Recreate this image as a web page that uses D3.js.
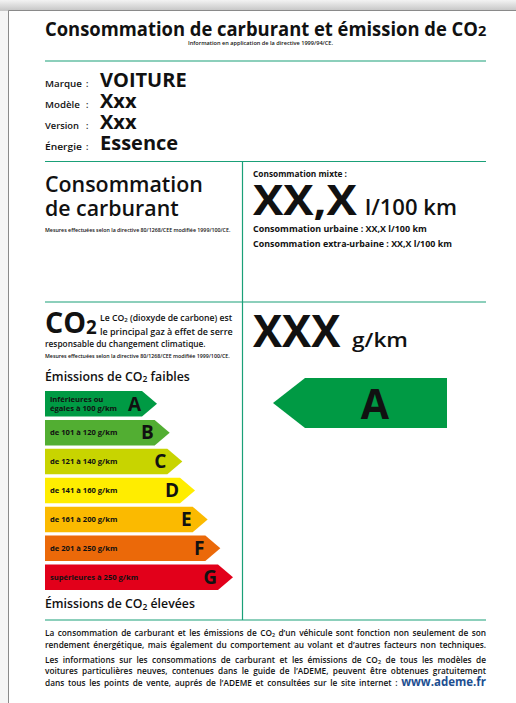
<!DOCTYPE html>
<html>
<head>
<meta charset="utf-8">
<script src="https://cdn.jsdelivr.net/npm/d3@7"></script>
<style>
  body { margin: 0; background: #fff; }
  svg { display: block; font-family: "Open Sans", "Noto Sans", sans-serif; }
</style>
</head>
<body>
<svg id="label"></svg>
<script>
const labelKeys = ["Marque", "Modèle", "Version", "Énergie"];
const labelValues = ["VOITURE", "Xxx", "Xxx", "Essence"];
const classes = ["A", "B", "C", "D", "E", "F", "G"];
const classRanges = [
  ["inférieures ou", "égales à 100 g/km"],
  ["de 101 à 120 g/km"],
  ["de 121 à 140 g/km"],
  ["de 141 à 160 g/km"],
  ["de 161 à 200 g/km"],
  ["de 201 à 250 g/km"],
  ["supérieures à 250 g/km"]
];
const classColors = ["#009a44", "#52ae32", "#c8d400", "#ffed00", "#fbba00", "#eb6909", "#e2001a"];
const currentClass = "A";
const co2Value = "XXX";
const mixedValue = "XX,X";
const urbanValue = "XX,X";
const extraValue = "XX,X";
const footerLines = [
  "La consommation de carburant et les émissions de CO₂ d’un véhicule sont fonction non seulement de son",
  "rendement énergétique, mais également du comportement au volant et d’autres facteurs non techniques.",
  "Les informations sur les consommations de carburant et les émissions de CO₂ de tous les modèles de",
  "voitures particulières neuves, contenues dans le guide de l’ADEME, peuvent être obtenues gratuitement",
  "dans tous les points de vente, auprés de l’ADEME et consultées sur le site internet :"
];
const siteUrl = "www.ademe.fr";

const W = 516, H = 703;
const left = 45, right = 486, mid = 242.5;
const green = "#1aa078";

const svg = d3.select("#label").attr("width", W).attr("height", H);

// page look: grey shadow on top and left
const defs = svg.append("defs");
const grad = defs.append("linearGradient").attr("id", "topShade")
    .attr("x1", 0).attr("y1", 0).attr("x2", 0).attr("y2", 1);
grad.append("stop").attr("offset", "0%").attr("stop-color", "#f3f3f3");
grad.append("stop").attr("offset", "100%").attr("stop-color", "#c4c4c4");

svg.append("rect").attr("width", W).attr("height", H).attr("fill", "#f5f5f5");
svg.append("rect").attr("width", W).attr("height", 11).attr("fill", "url(#topShade)");
svg.append("rect").attr("x", 9).attr("y", 11).attr("width", W - 9).attr("height", H - 11).attr("fill", "#fff");
svg.append("path").attr("d", `M8.5,${H} V10.5 H${W}`).attr("fill", "none").attr("stroke", "#8a8a8a");

// squeeze a text to a measured width (reference font is narrower)
function fit(sel, x, y, w) {
  const w0 = sel.node().getBBox().width;
  sel.attr("x", 0).attr("y", 0)
    .attr("transform", `translate(${x},${y}) scale(${w / w0},1)`);
  return sel;
}

function label(str, size, weight) {
  return svg.append("text")
    .attr("font-size", size)
    .attr("font-weight", weight)
    .attr("fill", "#111")
    .text(str);
}

// text with a subscript "2" after CO
function co2Text(before, after, size, weight, subSize, subDy) {
  const t = svg.append("text").attr("font-size", size).attr("font-weight", weight).attr("fill", "#111");
  t.append("tspan").text(before + "CO");
  t.append("tspan").attr("font-size", subSize).attr("dy", subDy).text("2");
  if (after) t.append("tspan").attr("dy", -subDy).text(after);
  return t;
}

// --- header ---
fit(co2Text("Consommation de carburant et émission de ", "", 19, 700, 15, 0.5), left, 35.5, 442);
fit(label("Information en application de la directive 1999/94/CE.", 4.6, 600), 188, 45, 145);

// grid lines
const hLines = [61, 161.5, 302, 620];
svg.selectAll("line.h").data(hLines).join("line")
    .attr("class", "h")
    .attr("x1", left).attr("x2", right)
    .attr("y1", d => d).attr("y2", d => d)
    .attr("stroke", green).attr("stroke-width", 1.2);
svg.append("line")
    .attr("x1", mid).attr("x2", mid).attr("y1", 161.5).attr("y2", 620)
    .attr("stroke", green).attr("stroke-width", 1.2);

// --- vehicle identity ---
const rowY = d3.scalePoint().domain(labelKeys).range([87.3, 150]);
const keyW = [37, 35, 34, 37];
labelKeys.forEach((k, i) => {
  fit(label(k, 8.6, 600), left, rowY(k), keyW[i]);
  label(":", 8.6, 600).attr("x", 86).attr("y", rowY(k));
  label(labelValues[i], 20, 700).attr("x", 100).attr("y", rowY(k));
});

// --- fuel consumption ---
fit(label("Consommation", 22, 600), left, 191.5, 158);
fit(label("de carburant", 22, 600), left, 216, 134);
fit(label("Mesures effectuées selon la directive 80/1268/CEE modifiée 1999/100/CE.", 5.2, 600), left, 231.5, 186);

fit(label("Consommation mixte :", 8.2, 700), 253, 177, 94);
fit(label(mixedValue, 42, 700), 253, 215, 105);
fit(label("l/100 km", 22, 600), 365, 215, 92);
fit(label(`Consommation urbaine : ${urbanValue} l/100 km`, 8.5, 700), 253, 232, 174);
fit(label(`Consommation extra-urbaine : ${extraValue} l/100 km`, 8.5, 700), 253, 246.5, 199);

// --- CO2 block ---
fit(co2Text("", "", 29, 700, 19, 1), left, 333, 52);
fit(co2Text("Le ", " (dioxyde de carbone) est", 8.5, 600, 6, 1), 100, 320.7, 133);
fit(label("le principal gaz à effet de serre", 8.5, 600), 100, 334.5, 133);
fit(label("responsable du changement climatique.", 8.5, 600), left, 346.7, 161);
fit(label("Mesures effectuées selon la directive 80/1268/CEE modifiée 1999/100/CE.", 5, 600), left, 357.8, 186);

fit(co2Text("Émissions de ", " faibles", 13, 600, 9, 1.5), left, 380.5, 145);
fit(co2Text("Émissions de ", " élevées", 13, 600, 9, 1.5), left, 608, 150);

// --- class arrows ---
const yBand = d3.scaleBand().domain(classes).range([391, 590]).paddingInner(0.12);
const tipX = d3.scaleLinear().domain([0, classes.length - 1]).range([157, 233]);
const depth = 15;
const bh = yBand.bandwidth();

const bars = svg.selectAll("g.cls").data(classes).join("g").attr("class", "cls");
bars.append("path")
    .attr("d", (d, i) => {
      const y0 = yBand(d), y1 = y0 + bh, t = tipX(i), b = t - depth;
      return `M${left},${y0} H${b} L${t},${y0 + bh / 2} L${b},${y1} H${left} Z`;
    })
    .attr("fill", (d, i) => classColors[i]);
bars.append("text")
    .attr("x", (d, i) => tipX(i) - depth - 1)
    .attr("y", d => yBand(d) + bh / 2 + 6.8)
    .attr("text-anchor", "end")
    .attr("font-size", 19).attr("font-weight", 700).attr("fill", "#111")
    .text(d => d);
bars.each(function (d, i) {
  const g = d3.select(this);
  const lines = classRanges[i];
  const cy = yBand(d) + bh / 2;
  lines.forEach((ln, j) => {
    const base = lines.length === 1 ? cy + 2.6 : cy - 2 + j * 9;
    g.append("text")
        .attr("x", 50).attr("y", base)
        .attr("font-size", 7.6).attr("font-weight", 700).attr("fill", "#111")
        .text(ln);
  });
});

// --- CO2 value and class pointer ---
fit(label(co2Value, 44, 700), 253, 346.5, 88);
fit(label("g/km", 19, 600), 352, 346.5, 56);

const ci = classes.indexOf(currentClass);
const pt = { tip: 273, body: 305, end: 447, top: 378, bot: 428 };
svg.append("path")
    .attr("d", `M${pt.tip},${(pt.top + pt.bot) / 2} L${pt.body},${pt.top} H${pt.end} V${pt.bot} H${pt.body} Z`)
    .attr("fill", classColors[ci]);
svg.append("text")
    .attr("x", 375).attr("y", 418.5).attr("text-anchor", "middle")
    .attr("font-size", 41).attr("font-weight", 700).attr("fill", "#111")
    .text(currentClass);

// --- footer, justified word by word ---
const footY = [635.5, 647.5, 662.5, 674, 685.5];
const lineW = right - left;
footerLines.forEach((ln, li) => {
  const g = svg.append("g");
  const words = ln.split(" ").map(w => ({ w, size: 8.3, weight: 600, color: "#111" }));
  if (li === footerLines.length - 1) words.push({ w: siteUrl, size: 11.5, weight: 700, color: "#1d4f91" });
  let sum = 0;
  const nodes = words.map(wd => {
    const t = g.append("text")
        .attr("y", footY[li])
        .attr("font-size", wd.size).attr("font-weight", wd.weight).attr("fill", wd.color);
    if (wd.w.includes("CO₂")) {
      const parts = wd.w.split("CO₂");
      t.append("tspan").text(parts[0] + "CO");
      t.append("tspan").attr("font-size", 5.5).attr("dy", 1).text("2");
      if (parts[1]) t.append("tspan").attr("dy", -1).text(parts[1]);
    } else {
      t.text(wd.w);
    }
    const w = t.node().getComputedTextLength();
    sum += w;
    return { t, w };
  });
  let gap = (lineW - sum) / (nodes.length - 1);
  let scale = 1;
  if (gap < 2) {
    gap = 2;
    scale = lineW / (sum + gap * (nodes.length - 1));
  }
  let x = 0;
  nodes.forEach(n => {
    n.t.attr("x", x);
    x += n.w + gap;
  });
  g.attr("transform", `translate(${left},0) scale(${scale},1)`);
});
</script>
</body>
</html>
